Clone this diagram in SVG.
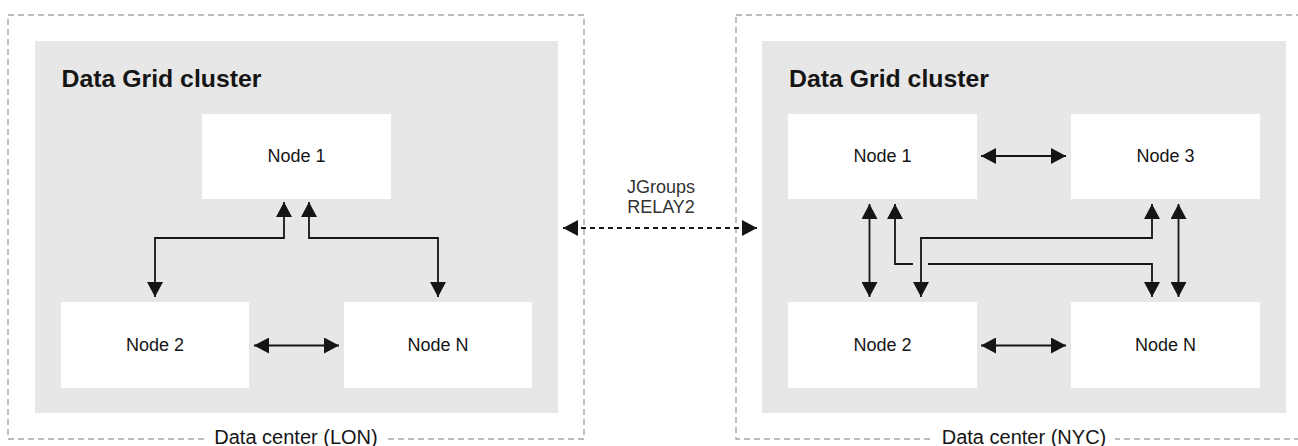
<svg xmlns="http://www.w3.org/2000/svg" width="1298" height="446" viewBox="0 0 1298 446">
  <style>
    .dc { fill: none; stroke: #a6a6a6; stroke-width: 1.4; stroke-dasharray: 6 4; }
    .cluster { fill: #e7e7e7; }
    .node rect { fill: #ffffff; }
    .title { font-family: "Liberation Sans", Arial, sans-serif; font-weight: bold; font-size: 24px; fill: #151515; }
    .ntext { font-family: "Liberation Sans", Arial, sans-serif; font-size: 18px; fill: #151515; text-anchor: middle; }
    .dclabel { font-family: "Liberation Sans", Arial, sans-serif; font-size: 20px; fill: #151515; text-anchor: middle; }
    .relay { font-family: "Liberation Sans", Arial, sans-serif; font-size: 18px; fill: #333333; text-anchor: middle; }
    .conn { fill: none; stroke: #151515; stroke-width: 1.8; marker-start: url(#ah); marker-end: url(#ah); }
    .dashed { stroke-dasharray: 5 4; }
  </style>
  <defs>
    <marker id="ah" markerUnits="userSpaceOnUse" markerWidth="15" markerHeight="16" refX="15" refY="8" orient="auto-start-reverse" viewBox="0 0 15 16">
      <path d="M0,0 L15,8 L0,16 z" fill="#151515"/>
    </marker>
  </defs>

  <rect width="1298" height="446" fill="#ffffff"/>

  <!-- Data center LON -->
  <g id="dc-lon">
    <rect class="dc" x="8" y="15" width="576" height="424"/>
    <rect class="cluster" x="35" y="41" width="523" height="372"/>
    <text class="title" x="61.5" y="87" textLength="200" lengthAdjust="spacingAndGlyphs">Data Grid cluster</text>
    <rect x="205" y="428" width="182" height="18" fill="#ffffff"/>
    <text class="dclabel" x="296" y="444">Data center (LON)</text>
  </g>

  <!-- Data center NYC -->
  <g id="dc-nyc">
    <rect class="dc" x="736" y="15" width="570" height="424"/>
    <rect class="cluster" x="762" y="41" width="524" height="372"/>
    <text class="title" x="789" y="87" textLength="200" lengthAdjust="spacingAndGlyphs">Data Grid cluster</text>
    <rect x="933" y="428" width="182" height="18" fill="#ffffff"/>
    <text class="dclabel" x="1024" y="444">Data center (NYC)</text>
  </g>

  <!-- LON nodes -->
  <g id="lon-node1" class="node">
    <rect x="202" y="114" width="189" height="85"/>
    <text class="ntext" x="296.5" y="162">Node 1</text>
  </g>
  <g id="lon-node2" class="node">
    <rect x="61" y="302" width="188" height="86"/>
    <text class="ntext" x="155" y="351">Node 2</text>
  </g>
  <g id="lon-nodeN" class="node">
    <rect x="344" y="302" width="188" height="86"/>
    <text class="ntext" x="438" y="351">Node N</text>
  </g>

  <!-- NYC nodes -->
  <g id="nyc-node1" class="node">
    <rect x="788" y="114" width="189" height="85"/>
    <text class="ntext" x="882.5" y="162">Node 1</text>
  </g>
  <g id="nyc-node3" class="node">
    <rect x="1071" y="114" width="189" height="85"/>
    <text class="ntext" x="1165.5" y="162">Node 3</text>
  </g>
  <g id="nyc-node2" class="node">
    <rect x="788" y="302" width="189" height="86"/>
    <text class="ntext" x="882.5" y="351">Node 2</text>
  </g>
  <g id="nyc-nodeN" class="node">
    <rect x="1071" y="302" width="189" height="86"/>
    <text class="ntext" x="1165.5" y="351">Node N</text>
  </g>

  <!-- Relay label -->
  <g id="relay-label">
    <text class="relay" x="661" y="193">JGroups</text>
    <text class="relay" x="661" y="213">RELAY2</text>
  </g>

  <!-- Connectors -->
  <g id="connectors">
    <path class="conn" d="M284,202 V238 H155 V297"/>
    <path class="conn" d="M309,202 V238 H438 V297"/>
    <path class="conn" d="M254,345.5 H339"/>

    <path class="conn dashed" d="M563,228 H757"/>

    <path class="conn" d="M981,156 H1066"/>
    <path class="conn" d="M981,345.5 H1066"/>
    <path class="conn" d="M869.5,204 V297"/>
    <path class="conn" d="M895,204 V264 H913 M928,264 H1152 V297"/>
    <path class="conn" d="M921,297 V238 H1152 V204"/>
    <path class="conn" d="M1178.5,204 V297"/>
  </g>
</svg>
